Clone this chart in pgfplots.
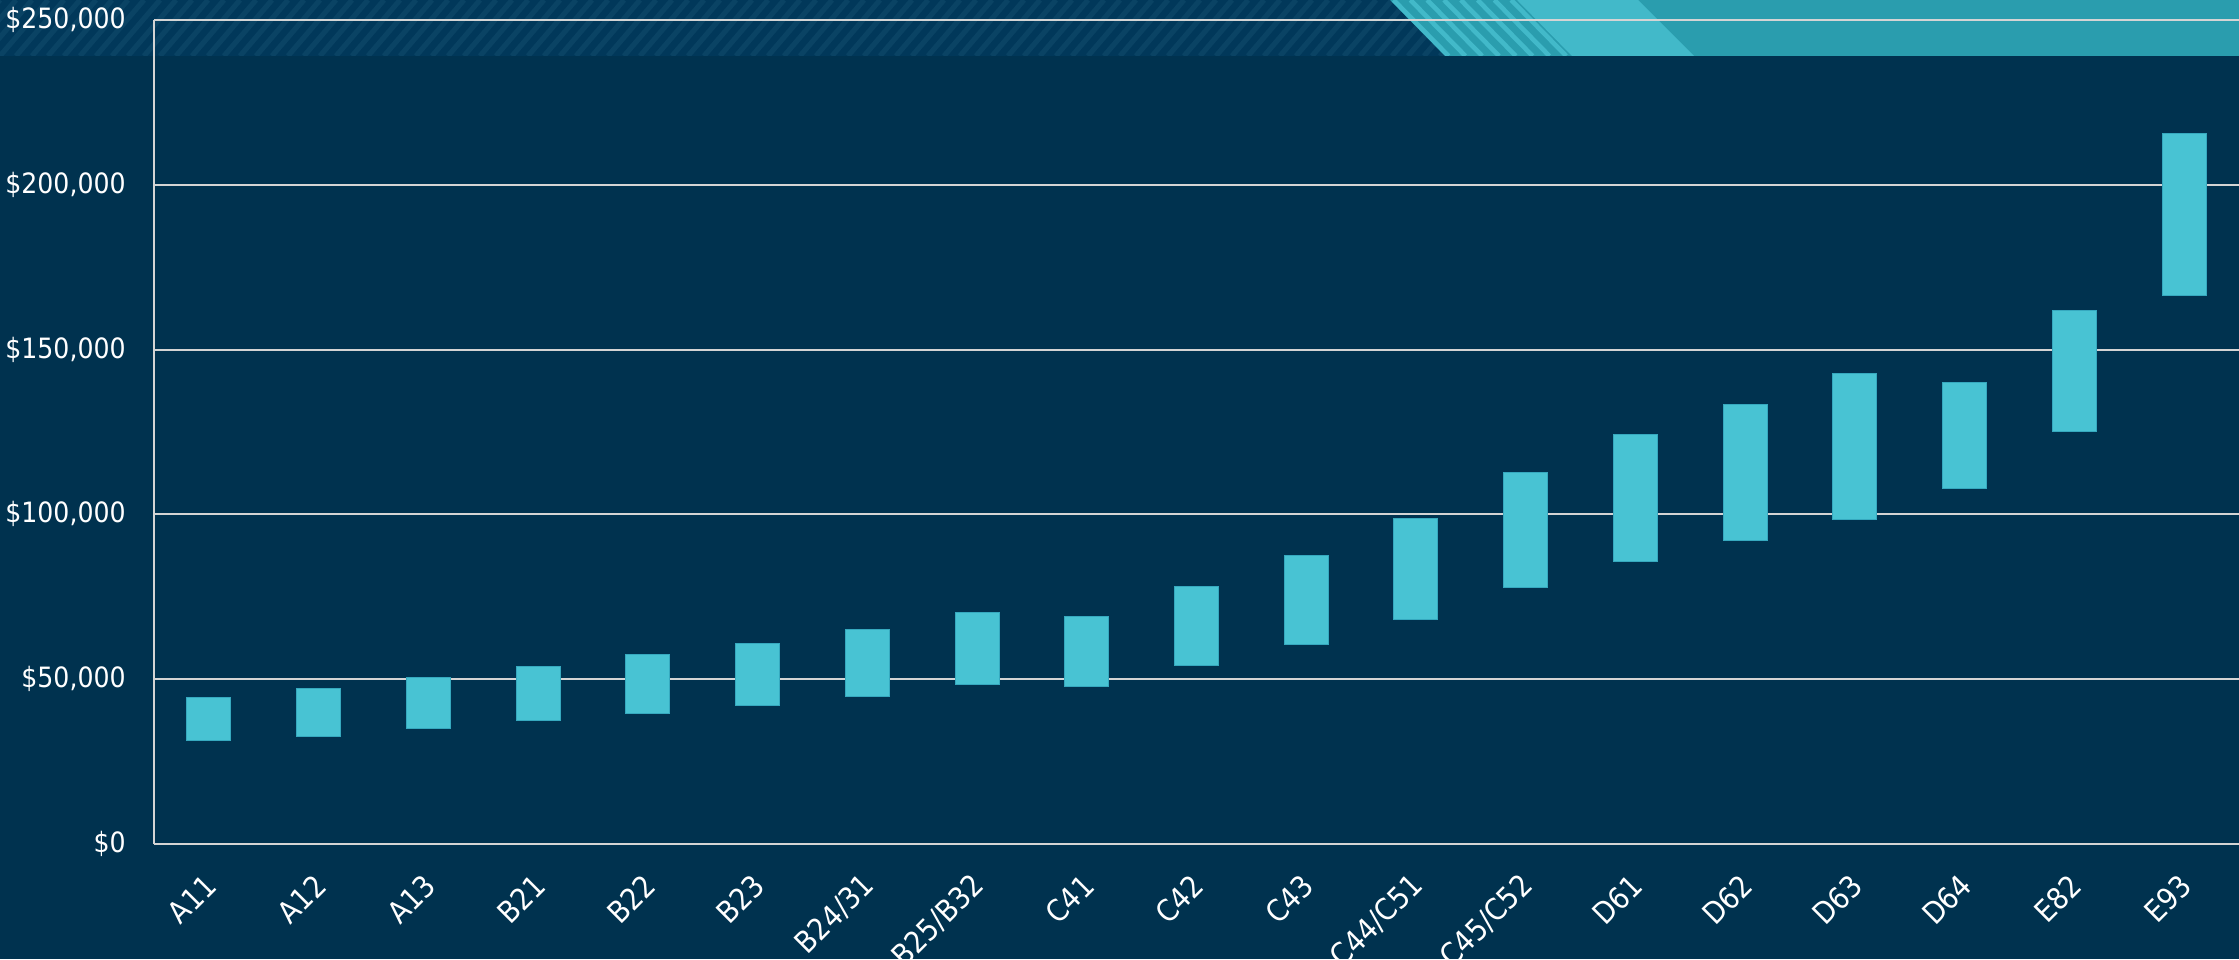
\documentclass[border=0pt]{standalone}
\usepackage{pgfplots}
\pgfplotsset{compat=1.18}
\usepackage{pgfplotstable}
\usepackage{fontspec}
\setmainfont{DejaVu Sans Condensed}
\definecolor{navy}{HTML}{00324F}
\definecolor{bandnavy}{HTML}{01385A}
\definecolor{bandstripe}{HTML}{0A4364}
\definecolor{tealdark}{HTML}{2A9DAE}
\definecolor{teallight}{HTML}{42B9C9}
\definecolor{barcol}{HTML}{48C3D3}
\definecolor{baredge}{HTML}{36A9BF}
\definecolor{gridgray}{HTML}{D4D4D4}

\pgfplotstableread{
x low high
0 31300 44300
1 32600 47300
2 34900 50500
3 37400 53800
4 39600 57400
5 42000 60700
6 44800 65000
7 48500 70100
8 47700 68900
9 54100 78200
10 60400 87400
11 68200 98900
12 77700 112700
13 85800 124100
14 92100 133400
15 98400 142700
16 107900 139900
17 125000 162000
18 166300 215700
}\datatable

\begin{document}
\begin{tikzpicture}
\useasboundingbox (0,0) rectangle (1119.5pt,479.5pt);
\fill[navy] (0,0) rectangle (1119.5pt,479.5pt);
% decorative header band
\fill[bandnavy] (0,451.5pt) rectangle (1119.5pt,479.5pt);
\begin{scope}
\clip (0,451.5pt) -- (722.5pt,451.5pt) -- (695pt,479.5pt) -- (0,479.5pt) -- cycle;
\foreach \i in {-4,...,92} \draw[bandstripe, line width=2.6pt] (\i*8pt,451.5pt) -- ++(24pt,28pt);
\end{scope}
\fill[tealdark] (695pt,479.5pt) -- (722.5pt,451.5pt) -- (1119.5pt,451.5pt) -- (1119.5pt,479.5pt) -- cycle;
\begin{scope}
\clip (695pt,479.5pt) -- (722.5pt,451.5pt) -- (786pt,451.5pt) -- (758.5pt,479.5pt) -- cycle;
\foreach \i in {0,...,14} \draw[teallight, line width=2.3pt] (680pt+\i*8.4pt,479.5pt) -- ++(27.5pt,-28pt);
\end{scope}
\fill[teallight] (758.5pt,479.5pt) -- (786pt,451.5pt) -- (847pt,451.5pt) -- (819pt,479.5pt) -- cycle;

\begin{axis}[
  at={(77pt,57.5pt)}, anchor=south west,
  scale only axis, width=1042.5pt, height=412pt,
  xmin=-0.5, xmax=18.5, ymin=0, ymax=250000,
  axis x line*=bottom, axis y line*=left,
  axis line style={draw=gridgray, line width=1pt},
  ymajorgrids=true,
  major grid style={draw=gridgray, line width=1pt},
  major tick length=0pt,
  xtick={0,...,18},
  xticklabels={A11,A12,A13,B21,B22,B23,B24/31,B25/B32,C41,C42,C43,C44/C51,C45/C52,D61,D62,D63,D64,E82,E93},
  ytick={0,50000,100000,150000,200000,250000},
  scaled y ticks=false,
  /pgf/number format/.cd, fixed, 1000 sep={,}, assume math mode=true, /pgfplots/.cd,
  yticklabel={\$\pgfmathprintnumber{\tick}},
  every tick label/.append style={font=\fontsize{14}{16}\selectfont, text=white},
  yticklabel style={anchor=east, inner sep=0pt, xshift=-14pt},
  xticklabel style={font=\fontsize{15}{17}\selectfont, yshift=-18pt, xshift=1pt, rotate=45, anchor=east, inner sep=0pt},
  ybar stacked, bar width=22pt,
]
\addplot[draw=none, fill=none] table[x=x, y=low] {\datatable};
\addplot[fill=barcol, draw=baredge, line width=0.5pt] table[x=x, y expr=\thisrow{high}-\thisrow{low}] {\datatable};
\end{axis}
\end{tikzpicture}
\end{document}
